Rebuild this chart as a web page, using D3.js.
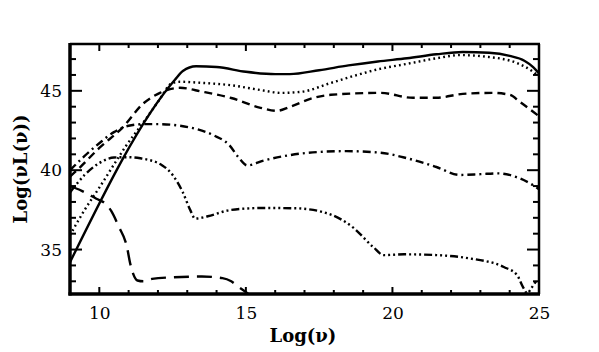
<!DOCTYPE html>
<html><head><meta charset="utf-8">
<script src="https://cdn.jsdelivr.net/npm/d3@7"></script>
<style>body{margin:0;background:#fff}svg{display:block}</style>
</head><body>
<script>
// Data: [log(nu), log(nu L(nu))]
const solid = [[9,34.2],[12.58,45.7],[12.85,46.25],[13.3,46.55],[14,46.5],[15,46.2],[16,46.05],[16.5,46.05],[17.5,46.3],[18.5,46.6],[19.5,46.85],[20.5,47.05],[21.5,47.3],[22.4,47.45],[23.3,47.4],[24,47.2],[24.5,46.9],[24.8,46.5],[25,46.1]];
const dotted = [[9,35.9],[9.5,37.5],[10,38.9],[10.6,40.65],[10.9,41.5],[11.5,43.0],[12.0,44.3],[12.5,45.5],[12.75,45.57],[13.5,45.5],[14.5,45.35],[15.5,45.05],[16.2,44.87],[16.9,44.94],[17.9,45.5],[18.7,45.95],[19.5,46.35],[20.5,46.7],[21.5,47.05],[22.3,47.25],[23.2,47.15],[24.25,46.75],[24.8,46.2],[25,45.9]];
const dashed = [[9,39.6],[9.24,40.0],[10,41.4],[10.8,42.7],[11.5,44.2],[12.07,44.87],[12.75,45.19],[13.5,44.95],[14.5,44.55],[15.5,43.93],[16.06,43.74],[16.5,43.99],[17.3,44.55],[17.9,44.75],[19.6,44.87],[20.7,44.56],[21.5,44.56],[22.4,44.81],[23.4,44.87],[24.0,44.75],[24.35,44.3],[24.8,43.68],[25,43.4]];
const dashDot = [[9,40.0],[9.5,40.9],[10,41.7],[10.5,42.4],[11,42.8],[11.5,42.9],[12,42.9],[12.75,42.8],[13.3,42.6],[13.9,42.2],[14.45,41.55],[14.75,40.8],[15.05,40.3],[15.6,40.6],[16.5,40.95],[17.5,41.15],[18.4,41.2],[19.6,41.1],[20.4,40.8],[21.5,40.2],[22.3,39.7],[23.0,39.75],[23.6,39.8],[24.25,39.55],[24.8,39.05],[25,38.8]];
const dashDotDot = [[9,38.6],[9.5,39.7],[10,40.45],[10.5,40.8],[11,40.82],[11.4,40.75],[12.15,40.3],[12.5,39.7],[12.85,38.6],[13.1,37.5],[13.27,36.95],[13.7,37.1],[14.5,37.5],[15.6,37.62],[16.7,37.6],[17.9,37.2],[18.65,36.4],[19.35,35.15],[19.7,34.65],[20.4,34.7],[21.5,34.65],[22.6,34.45],[23.8,33.9],[24.25,33.4],[24.45,32.65],[24.6,32.25],[24.75,32.6],[24.9,33.0]];
const longDash = [[9,39.0],[9.4,38.7],[9.9,38.2],[10.2,37.9],[10.4,37.45],[10.65,36.5],[10.95,35.1],[11.05,34.15],[11.15,33.5],[11.3,33.05],[11.5,33.0],[11.8,33.15],[12.5,33.25],[13.5,33.3],[14.2,33.2],[14.5,33.0],[14.75,32.65],[15.05,32.25],[15.2,32.0]];

const xTicks = [10,15,20,25];
const yTicks = [35,40,45];
const xLabel = "Log(\u03bd)";
const yLabel = "Log(\u03bdL(\u03bd))";

const W = 599, H = 352;
const L = 70, R = 539, T = 44, B = 294;
const svg = d3.select("body").append("svg").attr("width", W).attr("height", H);
const x = d3.scaleLinear().domain([9,25]).range([L,R]);
const y = d3.scaleLinear().domain([32.2,47.95]).range([B,T]);

const font = "'DejaVu Serif', 'Liberation Serif', serif";

svg.append("clipPath").attr("id","c").append("rect").attr("x",L).attr("y",T).attr("width",R-L).attr("height",B-T);

const line = d3.line().x(d=>x(d[0])).y(d=>y(d[1])).curve(d3.curveMonotoneX);
const series = [
  {d: solid, dash: null},
  {d: dotted, dash: "1.8,3.2"},
  {d: dashed, dash: "8,5"},
  {d: dashDot, dash: "8,4,2,4"},
  {d: dashDotDot, dash: "8,3,2,3,2,3,2,3"},
  {d: longDash, dash: "15,8"}
];
const g = svg.append("g").attr("clip-path","url(#c)");
series.forEach(s => {
  g.append("path").attr("d", line(s.d)).attr("fill","none").attr("stroke","#000")
   .attr("stroke-width", 2.4).attr("stroke-dasharray", s.dash);
});

const minorX = d3.range(9,25.01,1).filter(v=>!xTicks.includes(v));
const minorY = d3.range(33,48,1).filter(v=>!yTicks.includes(v));

const xb = d3.axisBottom(x).tickValues(xTicks).tickSize(0).tickPadding(13).tickFormat(d3.format("d"));
const gx = svg.append("g").attr("transform",`translate(0,${B})`).call(xb);
gx.select(".domain").remove();
gx.selectAll("text").attr("font-family",font).attr("font-size",17).attr("fill","#000");

const yl = d3.axisLeft(y).tickValues(yTicks).tickSize(0).tickPadding(8).tickFormat(d3.format("d"));
const gy = svg.append("g").attr("transform",`translate(${L},0)`).call(yl);
gy.select(".domain").remove();
gy.selectAll("text").attr("font-family",font).attr("font-size",17).attr("fill","#000");

const tk = svg.append("g").attr("stroke","#000").attr("stroke-width",2);
xTicks.forEach(v=>{
  tk.append("line").attr("x1",x(v)).attr("x2",x(v)).attr("y1",B).attr("y2",B-7);
  tk.append("line").attr("x1",x(v)).attr("x2",x(v)).attr("y1",T).attr("y2",T+7);
});
minorX.forEach(v=>{
  tk.append("line").attr("x1",x(v)).attr("x2",x(v)).attr("y1",B).attr("y2",B-4);
  tk.append("line").attr("x1",x(v)).attr("x2",x(v)).attr("y1",T).attr("y2",T+4);
});
yTicks.forEach(v=>{
  tk.append("line").attr("x1",L).attr("x2",L+12).attr("y1",y(v)).attr("y2",y(v));
  tk.append("line").attr("x1",R).attr("x2",R-12).attr("y1",y(v)).attr("y2",y(v));
});
minorY.forEach(v=>{
  tk.append("line").attr("x1",L).attr("x2",L+6).attr("y1",y(v)).attr("y2",y(v));
  tk.append("line").attr("x1",R).attr("x2",R-6).attr("y1",y(v)).attr("y2",y(v));
});

svg.append("line").attr("x1",L).attr("x2",L).attr("y1",T-1).attr("y2",B+1.5).attr("stroke","#000").attr("stroke-width",3.5);
svg.append("line").attr("x1",L-1.5).attr("x2",R+1).attr("y1",B).attr("y2",B).attr("stroke","#000").attr("stroke-width",3.5);
svg.append("line").attr("x1",L).attr("x2",R+1).attr("y1",T).attr("y2",T).attr("stroke","#000").attr("stroke-width",2.5);
svg.append("line").attr("x1",R).attr("x2",R).attr("y1",T).attr("y2",B).attr("stroke","#000").attr("stroke-width",2.5);

svg.append("text").attr("x",303).attr("y",342).attr("text-anchor","middle")
  .attr("font-family",font).attr("font-size",18).attr("font-weight","bold").text(xLabel);
svg.append("text").attr("transform",`translate(27,${(T+B)/2}) rotate(-90)`).attr("text-anchor","middle")
  .attr("font-family",font).attr("font-size",18).attr("font-weight","bold").text(yLabel);
</script>
</body></html>
